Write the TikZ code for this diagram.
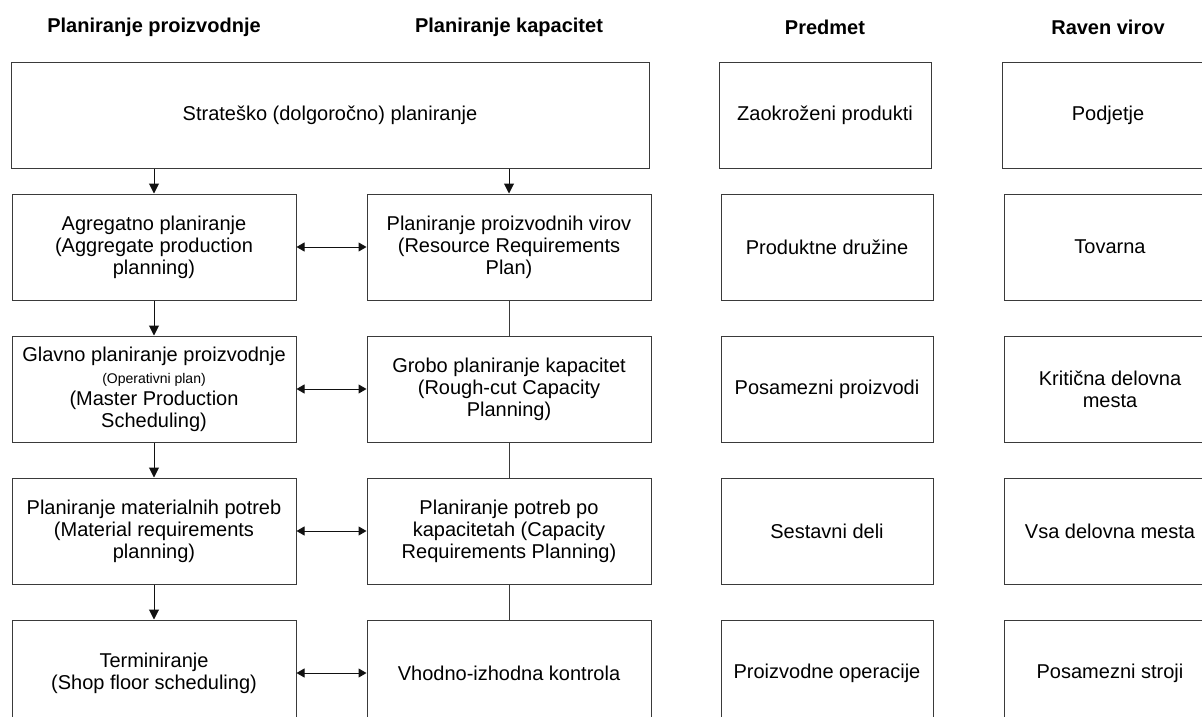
\documentclass[tikz,border=0pt]{standalone}
\usepackage{fontspec}
\setmainfont{Liberation Sans}
\usetikzlibrary{arrows.meta,positioning}
\definecolor{ink}{HTML}{111111}
\definecolor{line}{HTML}{3A3A3A}
\tikzset{
  font=\fontsize{20}{22}\selectfont,
  heading/.style={
    font=\fontsize{20}{22}\selectfont\bfseries,
    inner sep=0pt
  },
  box/.style={
    draw=line,
    line width=1pt,
    align=center,
    minimum height=106pt,
    inner sep=2pt
  },
  planbox/.style={box, minimum width=284pt},
  sidebox/.style={box, minimum width=212pt},
  widebox/.style={box, minimum width=638pt, minimum height=105pt},
  arrow/.style={
    -{Triangle[length=10pt,width=10pt]},
    draw=ink,
    line width=1pt
  },
  biarrow/.style={
    {Triangle[length=8pt,width=9pt]}-{Triangle[length=8pt,width=9pt]},
    draw=ink,
    line width=1pt
  },
  link/.style={
    draw=line,
    line width=1pt
  }
}
\newcommand{\smalltext}[1]{{\fontsize{14}{16}\selectfont #1}}

\begin{document}
\begin{tikzpicture}[x=1pt, y=-1pt, node distance=35pt and 70pt]

\path[use as bounding box, clip] (0,0) rectangle (1202,717);

% ---------------------------------------------------------------------------
% Planiranje proizvodnje / kapacitet
% ---------------------------------------------------------------------------
\node[widebox] (strat) at (330,115.5) {Strateško (dolgoročno) planiranje};

\node[planbox, below=25pt of strat.south west, anchor=north west, xshift=1pt] (agg)
  {Agregatno planiranje\\(Aggregate production\\planning)};
\node[planbox, below=of agg] (mps)
  {Glavno planiranje proizvodnje\\\smalltext{(Operativni plan)}\\(Master Production\\Scheduling)};
\node[planbox, below=of mps] (mrp)
  {Planiranje materialnih potreb\\(Material requirements\\planning)};
\node[planbox, below=of mrp] (shop)
  {Terminiranje\\(Shop floor scheduling)};

\node[planbox, right=of agg] (res)
  {Planiranje proizvodnih virov\\(Resource Requirements\\Plan)};
\node[planbox, right=of mps] (rccp)
  {Grobo planiranje kapacitet\\(Rough-cut Capacity\\Planning)};
\node[planbox, right=of mrp] (crp)
  {Planiranje potreb po\\kapacitetah (Capacity\\Requirements Planning)};
\node[planbox, right=of shop] (io)
  {Vhodno-izhodna kontrola};

\draw[arrow] (agg.north |- strat.south) -- (agg.north);
\draw[arrow] (res.north |- strat.south) -- (res.north);
\draw[arrow] (agg) -- (mps);
\draw[arrow] (mps) -- (mrp);
\draw[arrow] (mrp) -- (shop);

\draw[link] (res) -- (rccp);
\draw[link] (rccp) -- (crp);
\draw[link] (crp) -- (io);

\draw[biarrow] (agg) -- (res);
\draw[biarrow] (mps) -- (rccp);
\draw[biarrow] (mrp) -- (crp);
\draw[biarrow] (shop) -- (io);

% ---------------------------------------------------------------------------
% Predmet
% ---------------------------------------------------------------------------
\node[sidebox, right=69pt of strat] (whole) {Zaokroženi produkti};
\node[sidebox, right=69pt of res] (family) {Produktne družine};
\node[sidebox, right=69pt of rccp] (product) {Posamezni proizvodi};
\node[sidebox, right=69pt of crp] (parts) {Sestavni deli};
\node[sidebox, right=69pt of io] (ops) {Proizvodne operacije};

% ---------------------------------------------------------------------------
% Raven virov
% ---------------------------------------------------------------------------
\node[sidebox, right=of whole] (company) {Podjetje};
\node[sidebox, right=of family] (factory) {Tovarna};
\node[sidebox, right=of product] (critical) {Kritična delovna\\mesta};
\node[sidebox, right=of parts] (allws) {Vsa delovna mesta};
\node[sidebox, right=of ops] (machines) {Posamezni stroji};

% Column headings.
\coordinate (headrow) at (0,27);
\node[heading] (hprod) at (agg |- headrow) {Planiranje proizvodnje};
\node[heading] (hcap) at (res |- headrow) {Planiranje kapacitet};
\node[heading] (hobj) at (whole |- headrow) {Predmet};
\node[heading] (hres) at (company |- headrow) {Raven virov};

\end{tikzpicture}
\end{document}
